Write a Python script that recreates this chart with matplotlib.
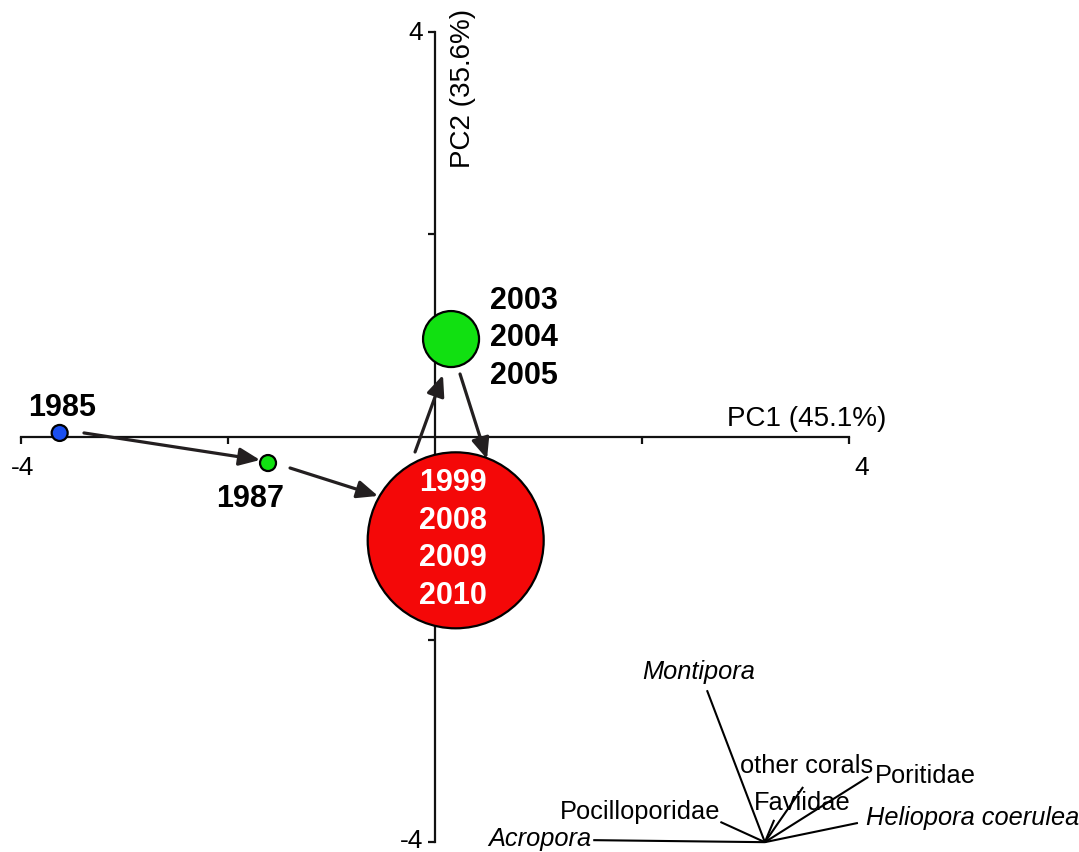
import matplotlib
matplotlib.use("Agg")
import matplotlib.pyplot as plt

plt.rcParams['font.family'] = ['Liberation Sans', 'DejaVu Sans']

# ---- data ----
group_labels = [["1985"], ["1987"], ["1999", "2008", "2009", "2010"], ["2003", "2004", "2005"]]
pc1 = [-3.63, -1.615, 0.20, 0.155]
pc2 = [0.04, -0.257, -1.02, 0.967]
marker_radius_px = [9, 9, 89, 29]
marker_colors = ["#1a4ff0", "#11e011", "#f40808", "#11e011"]

# trajectory arrows (start -> end) in PC space
arrow_x0 = [-3.395, -1.402, -0.193, 0.242]
arrow_y0 = [0.04, -0.306, -0.148, 0.622]
arrow_x1 = [-1.692, -0.551, 0.077, 0.503]
arrow_y1 = [-0.227, -0.582, 0.612, -0.217]

# taxa loadings (vectors) drawn from biplot origin
taxa = ["Montipora", "Acropora", "Pocilloporidae", "Faviidae", "other corals", "Poritidae", "Heliopora coerulea"]
taxa_italic = [True, True, False, False, False, False, True]
load_x = [-0.56, -1.66, -0.43, 0.09, 0.37, 1.0, 0.90]
load_y = [1.50, 0.02, 0.20, 0.22, 0.545, 0.644, 0.19]
biplot_origin = (3.19, -4.0)

x_tick_values = [-4, -2, 2, 4]
y_tick_values = [-4, -2, 2, 4]
x_tick_labels = {-4: "-4", 4: "4"}
y_tick_labels = {-4: "-4", 4: "4"}
xlabel = "PC1 (45.1%)"
ylabel = "PC2 (35.6%)"

# ---- figure ----
DPI = 100
fig = plt.figure(figsize=(10.79, 8.53), dpi=DPI)
ax = fig.add_axes([0, 0, 1, 1])
ax.set_xlim(-4.207, 6.228)
ax.set_ylim(-4.097, 4.324)

for s in ["top", "right"]:
    ax.spines[s].set_visible(False)
ax.spines["left"].set_position(("data", 0))
ax.spines["bottom"].set_position(("data", 0))
ax.spines["left"].set_bounds(-4, 4)
ax.spines["bottom"].set_bounds(-4, 4)
for s in ["left", "bottom"]:
    ax.spines[s].set_linewidth(1.6)
    ax.spines[s].set_color("#111111")
ax.set_xticks(x_tick_values)
ax.set_yticks(y_tick_values)
ax.tick_params(axis="both", direction="out", length=5, width=1.6, color="#111111",
               labelbottom=False, labelleft=False)

# tick labels
fs_tick = 19
for v, t in x_tick_labels.items():
    ax.annotate(t, (v, 0), xytext=(13 if v > 0 else 1, -30), textcoords="offset pixels",
                ha="center", va="center", fontsize=fs_tick)
for v, t in y_tick_labels.items():
    ax.annotate(t, (0, v), xytext=(-12, 2 if v < 0 else 0), textcoords="offset pixels",
                ha="right", va="center", fontsize=fs_tick)

# axis labels
ax.annotate(xlabel, (4, 0), xytext=(38, 19), textcoords="offset pixels",
            ha="right", va="center", fontsize=20)
ax.annotate(ylabel, (0, 4), xytext=(28, -56), textcoords="offset pixels",
            ha="center", va="center", rotation=90, fontsize=20)

# arrows
for x0, y0, x1, y1 in zip(arrow_x0, arrow_y0, arrow_x1, arrow_y1):
    ax.annotate("", xy=(x1, y1), xytext=(x0, y0),
                arrowprops=dict(arrowstyle="-|>,head_length=0.7,head_width=0.3",
                                color="#231f20", lw=2.3, shrinkA=0, shrinkB=0,
                                mutation_scale=18),
                zorder=4)

# circles
sizes = [(2 * (r - 1) * 72 / DPI) ** 2 for r in marker_radius_px]
ax.scatter(pc1, pc2, s=sizes, c=marker_colors, edgecolors="black", linewidths=1.6, zorder=5)

# year labels
fs_year = 22
line_px = 37.5
# 1985 above
ax.annotate(group_labels[0][0], (pc1[0], pc2[0]), xytext=(2, 26), textcoords="offset pixels",
            ha="center", va="center", fontsize=fs_year, fontweight="bold")
# 1987 below-left
ax.annotate(group_labels[1][0], (pc1[1], pc2[1]), xytext=(-18, -35), textcoords="offset pixels",
            ha="center", va="center", fontsize=fs_year, fontweight="bold")
# red group inside circle
n = len(group_labels[2])
for i, t in enumerate(group_labels[2]):
    dy = ((n - 1) / 2 - i) * line_px
    ax.annotate(t, (pc1[2], pc2[2]), xytext=(-3, dy + 2), textcoords="offset pixels",
                ha="center", va="center", fontsize=fs_year, fontweight="bold",
                color="white", zorder=6)
# green group to the right
n = len(group_labels[3])
for i, t in enumerate(group_labels[3]):
    dy = ((n - 1) / 2 - i) * line_px
    ax.annotate(t, (pc1[3], pc2[3]), xytext=(39, dy + 2), textcoords="offset pixels",
                ha="left", va="center", fontsize=fs_year, fontweight="bold", zorder=6)

# biplot vectors
label_offsets = {
    "Montipora": ((-8, 19), "center"),
    "Acropora": ((-2, 2), "right"),
    "Pocilloporidae": ((0, 11), "right"),
    "Faviidae": ((28, 18), "center"),
    "other corals": ((3, 22), "center"),
    "Poritidae": ((7, 2), "left"),
    "Heliopora coerulea": ((8, 6), "left"),
}
ox, oy = biplot_origin
for name, it, lx, ly in zip(taxa, taxa_italic, load_x, load_y):
    ex, ey = ox + lx, oy + ly
    ax.plot([ox, ex], [oy, ey], color="black", lw=1.5, solid_capstyle="butt", zorder=3)
    off, ha = label_offsets[name]
    ax.annotate(name, (ex, ey), xytext=off, textcoords="offset pixels",
                ha=ha, va="center", fontsize=18.3, style="italic" if it else "normal")

fig.savefig("out.png", dpi=DPI)
